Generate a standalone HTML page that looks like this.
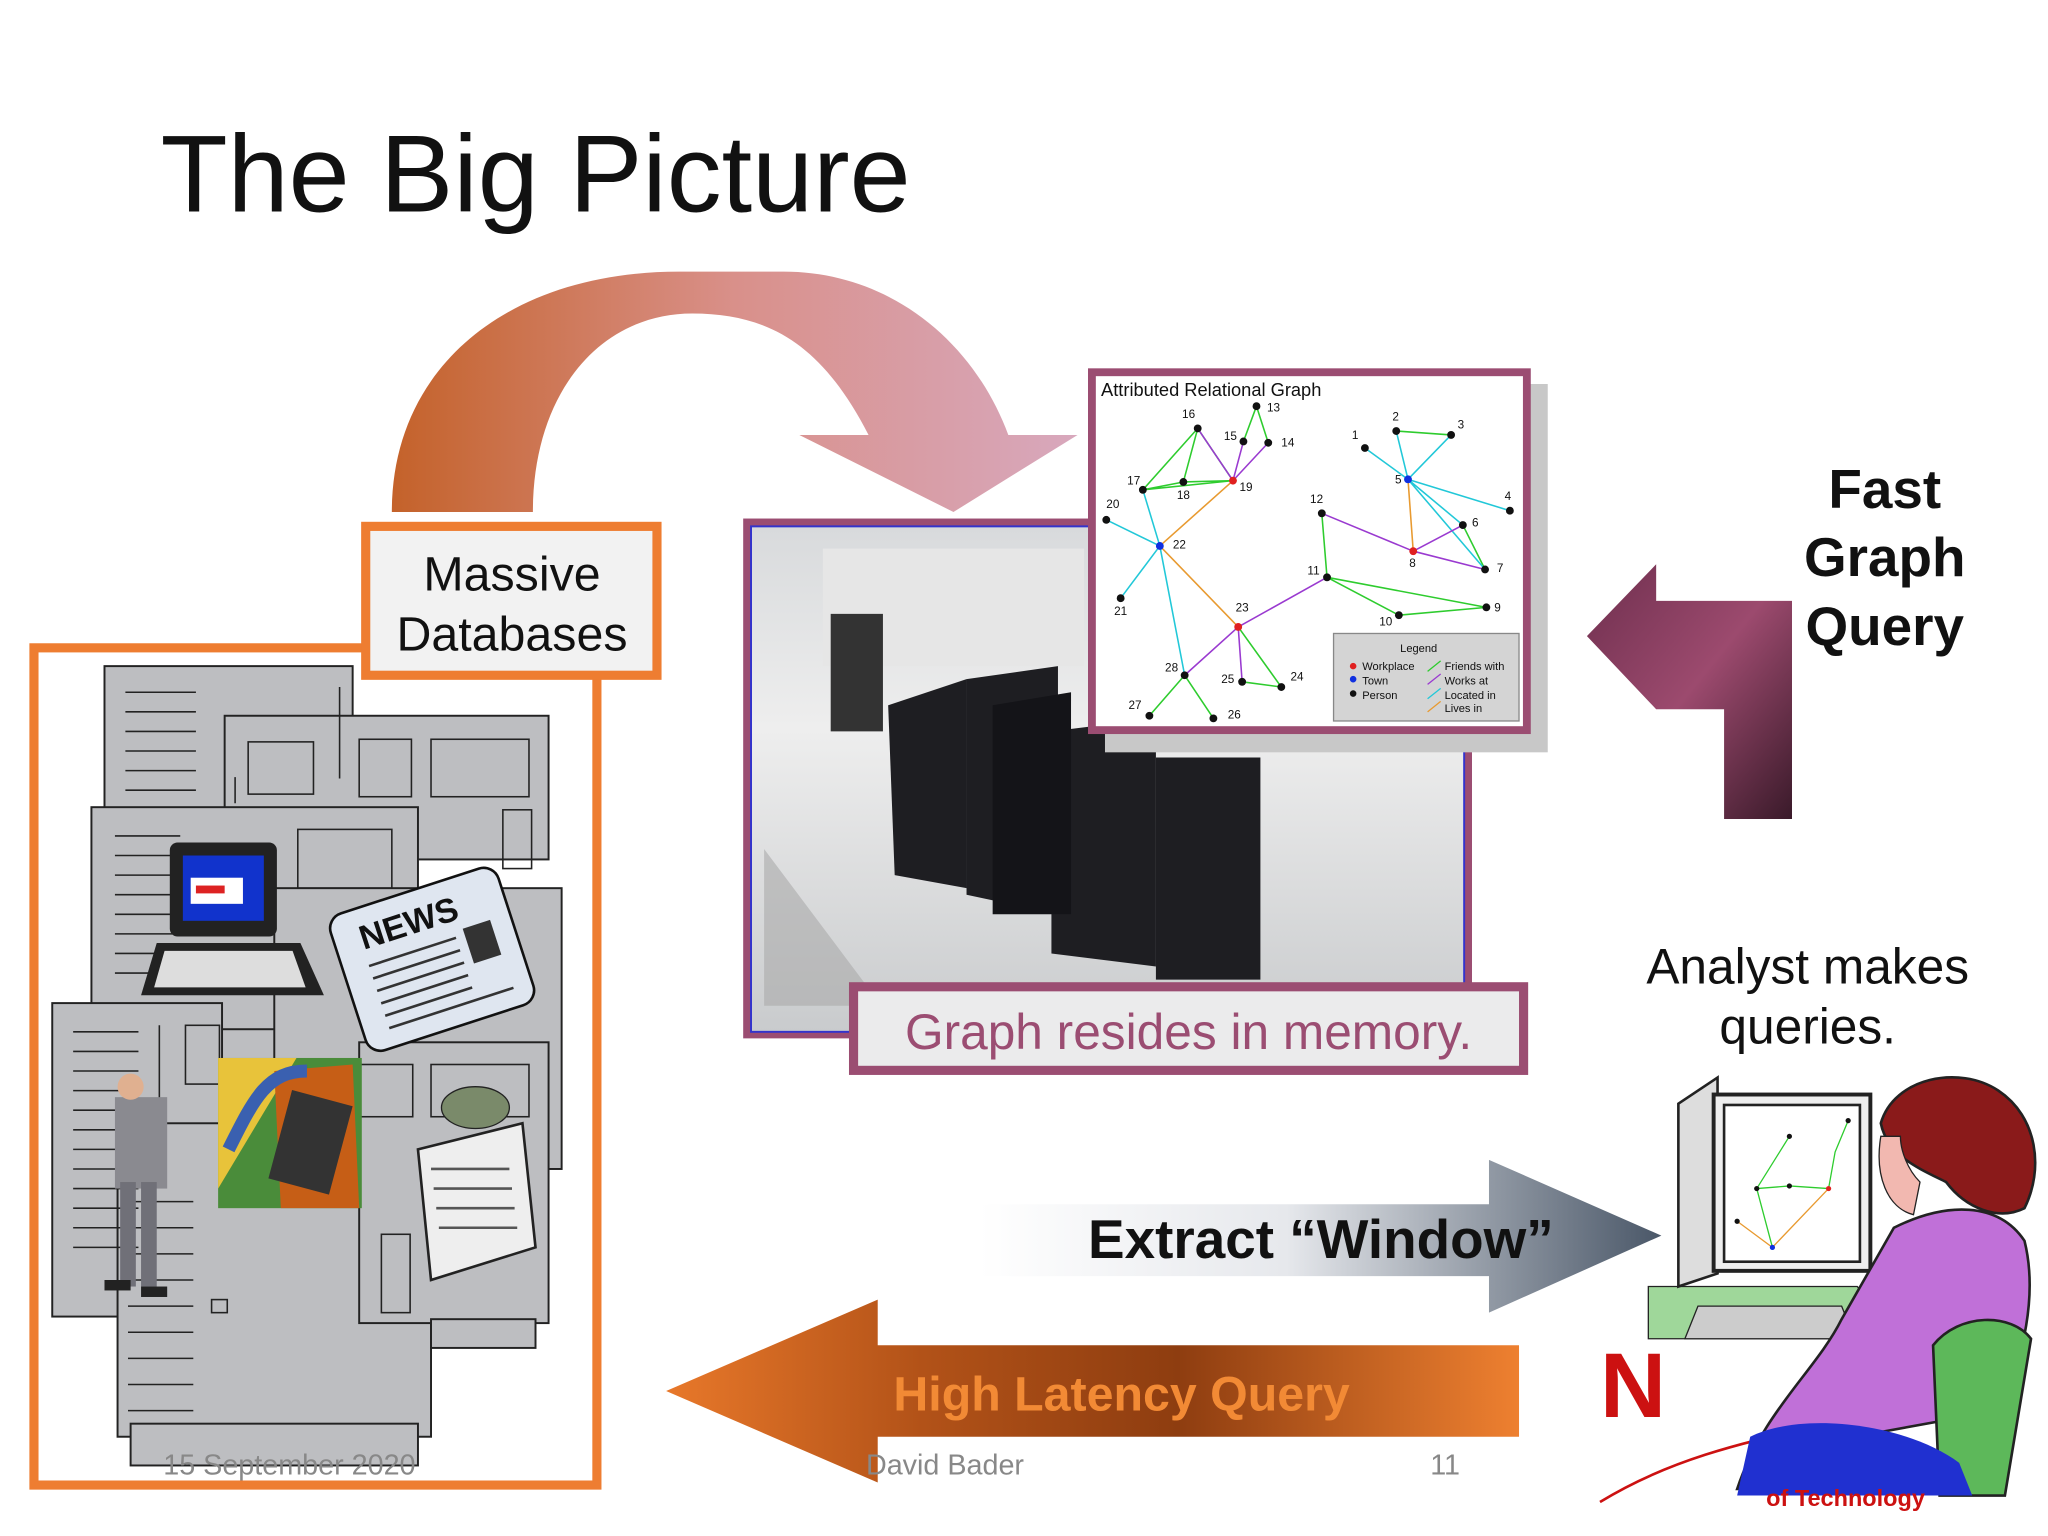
<!DOCTYPE html>
<html><head><meta charset="utf-8"><style>
html,body{margin:0;padding:0;background:#fff;width:2048px;height:1536px;overflow:hidden}
svg{display:block}
text{font-family:"Liberation Sans",sans-serif}
</style></head><body>
<svg width="2048" height="1536" viewBox="0 0 1568 1176" xmlns="http://www.w3.org/2000/svg">
<defs>
<linearGradient id="ga" x1="0" y1="0" x2="1" y2="0">
<stop offset="0" stop-color="#c4622a"/><stop offset="0.5" stop-color="#d9908a"/><stop offset="1" stop-color="#d8a8bd"/></linearGradient>
<linearGradient id="gp" x1="0" y1="0" x2="1" y2="1">
<stop offset="0" stop-color="#6e2f4e"/><stop offset="0.5" stop-color="#9c4a6e"/><stop offset="1" stop-color="#3a1a2a"/></linearGradient>
<linearGradient id="ge" x1="0" y1="0" x2="1" y2="0">
<stop offset="0" stop-color="#ffffff"/><stop offset="0.45" stop-color="#e6e8ec"/><stop offset="1" stop-color="#4a5768"/></linearGradient>
<linearGradient id="gh" x1="0" y1="0" x2="1" y2="0">
<stop offset="0" stop-color="#e8782a"/><stop offset="0.3" stop-color="#b25218"/><stop offset="0.6" stop-color="#8e3d10"/><stop offset="1" stop-color="#ee8030"/></linearGradient>
<linearGradient id="groom" x1="0" y1="0" x2="0" y2="1">
<stop offset="0" stop-color="#d8dadc"/><stop offset="0.4" stop-color="#eeeeee"/><stop offset="1" stop-color="#c9cbcd"/></linearGradient>
</defs>

<text x="123" y="162" font-family="'Liberation Sans',sans-serif" font-size="84" fill="#111">The Big Picture</text>

<!-- curved arrow -->
<path d="M300,392 C300,280 390,208 520,208 L600,208 C680,208 745,260 772,333 L825,333 L730,392 L612,333 L665,333 C630,265 590,240 530,240 C460,240 408,300 408,392 Z" fill="url(#ga)"/>

<!-- big frame -->
<rect x="26" y="496" width="431" height="641" fill="#fff" stroke="#ee7d31" stroke-width="7"/>
<!-- buildings -->
<g stroke="#222" stroke-width="1.5" fill="#bdbec1">
<rect x="80" y="510" width="190" height="480"/>
<rect x="172" y="548" width="248" height="110"/>
<rect x="70" y="618" width="250" height="170"/>
<rect x="40" y="768" width="130" height="240"/>
<rect x="90" y="860" width="240" height="240"/>
<rect x="210" y="680" width="220" height="215"/>
<rect x="275" y="798" width="145" height="215"/>
<rect x="100" y="1090" width="220" height="32"/>
<rect x="330" y="1010" width="80" height="22"/>
</g>
<g stroke="#222" stroke-width="1.2" fill="none">
<path d="M96,530h54M96,545h54M96,560h54M96,575h54M96,590h54M96,605h54"/>
<path d="M88,640h50M88,655h50M88,670h50M88,685h50M88,700h50M88,715h50M88,730h50M88,745h50"/>
<path d="M56,790h50M56,805h50M56,820h50M56,835h50M56,850h50M56,865h50M56,880h50M56,895h50M56,910h50M56,925h50M56,940h50M56,955h50"/>
<path d="M98,920h50M98,940h50M98,960h50M98,980h50M98,1000h50M98,1020h50M98,1040h50M98,1060h50M98,1080h50"/>
<rect x="190" y="568" width="50" height="40"/><rect x="275" y="566" width="40" height="44"/><rect x="330" y="566" width="75" height="44"/>
<rect x="228" y="635" width="72" height="45"/><rect x="385" y="620" width="22" height="45"/>
<rect x="142" y="785" width="26" height="45"/><rect x="276" y="815" width="40" height="40"/><rect x="330" y="815" width="75" height="40"/>
<rect x="292" y="945" width="22" height="60"/><rect x="162" y="995" width="12" height="10"/>
<path d="M260,526v70M180,595v20M122,785v60"/>
</g>
<!-- computer -->
<rect x="130" y="645" width="82" height="72" rx="6" fill="#222"/>
<rect x="140" y="655" width="62" height="50" fill="#1133cc"/>
<rect x="146" y="672" width="40" height="20" fill="#fff"/><rect x="150" y="678" width="22" height="6" fill="#d22"/>
<path d="M120,722h110l18,40h-140z" fill="#222"/>
<path d="M126,728h98l10,28h-116z" fill="#ddd"/>
<!-- newspaper -->
<g transform="rotate(-18 330 740)">
<rect x="265" y="680" width="135" height="110" rx="12" fill="#dfe6f0" stroke="#111" stroke-width="2"/>
<text x="285" y="712" font-family="'Liberation Serif',serif" font-weight="bold" font-size="26" fill="#111">NEWS</text>
<path d="M285,725h70M285,735h70M285,745h70M285,755h70M285,765h70M285,775h100" stroke="#333" stroke-width="2"/>
<rect x="362" y="720" width="22" height="28" fill="#333"/>
</g>
<!-- phone picture -->
<rect x="167" y="810" width="110" height="115" fill="#4a8c3a"/>
<path d="M167,810h60l-60,100z" fill="#e8c33a"/>
<path d="M210,820l60,-5l5,110h-60z" fill="#c65e16"/>
<rect x="215" y="840" width="48" height="70" fill="#333" transform="rotate(15 240 870)"/>
<path d="M175,880c20,-40 30,-60 60,-60" stroke="#3a60b0" stroke-width="10" fill="none"/>
<!-- businessman -->
<rect x="88" y="840" width="40" height="70" fill="#8a8a90"/>
<circle cx="100" cy="832" r="10" fill="#e0b090"/>
<rect x="92" y="905" width="12" height="80" fill="#707078"/><rect x="108" y="905" width="12" height="80" fill="#707078"/>
<rect x="80" y="980" width="20" height="8" fill="#222"/><rect x="108" y="985" width="20" height="8" fill="#222"/>
<!-- reader -->
<path d="M320,880l80,-20l10,95l-80,25z" fill="#eee" stroke="#222" stroke-width="2"/>
<ellipse cx="364" cy="848" rx="26" ry="16" fill="#7a8a6a" stroke="#222"/>
<path d="M330,895h60M332,910h60M334,925h60M336,940h60" stroke="#555" stroke-width="2"/>

<!-- massive databases -->
<rect x="280" y="403" width="223" height="114" fill="#f2f2f2" stroke="#ee7d31" stroke-width="7"/>
<text x="392" y="452" text-anchor="middle" font-size="37" fill="#111">Massive</text>
<text x="392" y="498" text-anchor="middle" font-size="37" fill="#111">Databases</text>

<!-- server room -->
<rect x="569" y="397" width="558" height="398" fill="#9b4d72"/>
<rect x="575" y="403" width="546" height="387" fill="url(#groom)" stroke="#3333cc" stroke-width="1.5"/>
<rect x="630" y="420" width="200" height="90" fill="#e6e6e6"/>
<g fill="#1e1e22">
<path d="M636,470h40v90h-40z" fill="#333"/>
<path d="M680,540l60,-20v160l-55,-10z"/>
<path d="M740,520l70,-10v190l-70,-15z"/>
<path d="M805,560l80,-10v190l-80,-10z"/>
<path d="M885,580l80,0v170h-80z"/>
<path d="M760,540l60,-10v170h-60z" fill="#141418"/>
</g>
<path d="M585,650l90,120h-90z" fill="#aaa" opacity="0.6"/>

<!-- graph panel -->
<rect x="846" y="294" width="339" height="282" fill="#c8c8c8"/>
<rect x="833" y="282" width="339" height="280" fill="#9b4d72"/>
<rect x="839" y="288" width="327" height="268" fill="#fff"/>
<text x="843" y="303" font-size="14" fill="#111">Attributed Relational Graph</text>
<g stroke-width="1.2" fill="none">
<g stroke="#2ecc2e">
<path d="M917,328L875,375M917,328L906,369M917,328L944,368M962,311L952,338M962,311L971,339M875,375L906,369M875,375L944,368M906,369L944,368M880,548L907,517M929,550L907,517M951,522L981,526M948,480L981,526M1016,442L1012,393M1016,442L1071,471M1016,442L1138,465M1071,471L1138,465M1120,402L1137,436M1069,330L1111,333"/>
</g>
<g stroke="#22c8d8">
<path d="M847,398L888,418M875,375L888,418M888,418L858,458M888,418L907,517M1078,367L1045,343M1078,367L1069,330M1078,367L1111,333M1078,367L1156,391M1078,367L1120,402M1078,367L1137,436"/>
</g>
<g stroke="#9a3ad0">
<path d="M917,328L944,368M952,338L944,368M971,339L944,368M948,480L951,522M948,480L907,517M948,480L1016,442M1012,393L1082,422M1082,422L1137,436M1082,422L1120,402"/>
</g>
<g stroke="#e89a30">
<path d="M944,368L888,418M888,418L948,480M1078,367L1082,422"/>
</g>
</g>
<g fill="#111" font-size="9">
<circle cx="962" cy="311" r="3"/><text x="970" y="315">13</text>
<circle cx="917" cy="328" r="3"/><text x="905" y="320">16</text>
<circle cx="952" cy="338" r="3"/><text x="937" y="337">15</text>
<circle cx="971" cy="339" r="3"/><text x="981" y="342">14</text>
<circle cx="875" cy="375" r="3"/><text x="863" y="371">17</text>
<circle cx="906" cy="369" r="3"/><text x="901" y="382">18</text>
<circle cx="944" cy="368" r="3" fill="#e02020"/><text x="949" y="376">19</text>
<circle cx="847" cy="398" r="3"/><text x="847" y="389">20</text>
<circle cx="888" cy="418" r="3" fill="#1030e0"/><text x="898" y="420">22</text>
<circle cx="858" cy="458" r="3"/><text x="853" y="471">21</text>
<circle cx="948" cy="480" r="3" fill="#e02020"/><text x="946" y="468">23</text>
<circle cx="907" cy="517" r="3"/><text x="892" y="514">28</text>
<circle cx="951" cy="522" r="3"/><text x="935" y="523">25</text>
<circle cx="981" cy="526" r="3"/><text x="988" y="521">24</text>
<circle cx="880" cy="548" r="3"/><text x="864" y="543">27</text>
<circle cx="929" cy="550" r="3"/><text x="940" y="550">26</text>
<circle cx="1045" cy="343" r="3"/><text x="1035" y="336">1</text>
<circle cx="1069" cy="330" r="3"/><text x="1066" y="322">2</text>
<circle cx="1111" cy="333" r="3"/><text x="1116" y="328">3</text>
<circle cx="1078" cy="367" r="3" fill="#1030e0"/><text x="1068" y="370">5</text>
<circle cx="1156" cy="391" r="3"/><text x="1152" y="383">4</text>
<circle cx="1120" cy="402" r="3"/><text x="1127" y="403">6</text>
<circle cx="1012" cy="393" r="3"/><text x="1003" y="385">12</text>
<circle cx="1082" cy="422" r="3" fill="#e02020"/><text x="1079" y="434">8</text>
<circle cx="1137" cy="436" r="3"/><text x="1146" y="438">7</text>
<circle cx="1016" cy="442" r="3"/><text x="1001" y="440">11</text>
<circle cx="1071" cy="471" r="3"/><text x="1056" y="479">10</text>
<circle cx="1138" cy="465" r="3"/><text x="1144" y="468">9</text>
</g>
<rect x="1021" y="485" width="142" height="67" fill="#d4d4d4" stroke="#888"/>
<g font-size="8.5" fill="#111">
<text x="1072" y="499">Legend</text>
<circle cx="1036" cy="510" r="2.5" fill="#e02020"/><text x="1043" y="513">Workplace</text>
<circle cx="1036" cy="520" r="2.5" fill="#1030e0"/><text x="1043" y="524">Town</text>
<circle cx="1036" cy="531" r="2.5"/><text x="1043" y="535">Person</text>
<path d="M1093,514l10,-8" stroke="#2ecc2e"/><text x="1106" y="513">Friends with</text>
<path d="M1093,524l10,-8" stroke="#9a3ad0"/><text x="1106" y="524">Works at</text>
<path d="M1093,535l10,-8" stroke="#22c8d8"/><text x="1106" y="535">Located in</text>
<path d="M1093,545l10,-8" stroke="#e89a30"/><text x="1106" y="545">Lives in</text>
</g>

<!-- caption -->
<rect x="650" y="752" width="520" height="71" fill="#9b4d72"/>
<rect x="657" y="759" width="506" height="57" fill="#ebebec"/>
<text x="910" y="803" text-anchor="middle" font-size="38" fill="#9b4d72">Graph resides in memory.</text>

<!-- fast graph query -->
<text x="1443" y="389" text-anchor="middle" font-size="42" font-weight="bold" fill="#111">Fast</text>
<text x="1443" y="441" text-anchor="middle" font-size="42" font-weight="bold" fill="#111">Graph</text>
<text x="1443" y="494" text-anchor="middle" font-size="42" font-weight="bold" fill="#111">Query</text>
<path d="M1372,627H1320V543H1268V543L1268,543L1215,487L1268,432V460H1372Z" fill="url(#gp)"/>

<text x="1384" y="753" text-anchor="middle" font-size="38" fill="#111">Analyst makes</text>
<text x="1384" y="799" text-anchor="middle" font-size="38" fill="#111">queries.</text>

<!-- extract window -->
<path d="M750,922H1140V888L1272,946L1140,1005V977H750Z" fill="url(#ge)"/>
<text x="833" y="963" font-size="42" font-weight="bold" fill="#111">Extract “Window”</text>

<!-- high latency -->
<path d="M1163,1030H672V995L510,1065L672,1135V1100H1163Z" fill="url(#gh)"/>
<text x="684" y="1080" font-size="37" font-weight="bold" fill="#f28a35">High Latency Query</text>

<!-- analyst clipart -->
<text x="1225" y="1085" font-family="'Liberation Serif',serif" font-size="70" font-weight="bold" fill="#cc1111">N</text>
<path d="M1225,1150C1290,1110 1360,1100 1420,1085" stroke="#cc1111" stroke-width="2" fill="none"/>
<path d="M1262,985h160l30,40h-190z" fill="#9fd79a" stroke="#222"/>
<path d="M1285,845l30,-20v150l-30,10z" fill="#ddd" stroke="#222" stroke-width="2"/>
<rect x="1312" y="838" width="120" height="135" fill="#eee" stroke="#222" stroke-width="3"/>
<rect x="1320" y="846" width="104" height="120" fill="#fff" stroke="#222" stroke-width="2"/>
<g stroke-width="1" fill="none">
<path d="M1370,870L1345,910L1370,908L1400,910M1415,858L1405,882L1400,910M1345,910L1357,955" stroke="#2ecc2e"/>
<path d="M1330,935L1357,955L1400,910" stroke="#e89a30"/>
</g>
<g fill="#111"><circle cx="1370" cy="870" r="2"/><circle cx="1415" cy="858" r="2"/><circle cx="1345" cy="910" r="2"/><circle cx="1370" cy="908" r="2"/><circle cx="1400" cy="910" r="2" fill="#e02020"/><circle cx="1357" cy="955" r="2" fill="#1030e0"/><circle cx="1330" cy="935" r="2"/></g>
<path d="M1300,1000h110l10,25h-130z" fill="#ccc" stroke="#222"/>
<path d="M1440,860c10,-35 60,-45 90,-25c30,20 35,60 20,90c-20,10 -45,0 -60,-20c-20,-10 -45,-20 -50,-45z" fill="#8a1a1a" stroke="#222" stroke-width="2"/>
<path d="M1440,870c-5,30 5,55 25,60l5,-25c-10,-10 -15,-25 -15,-35z" fill="#f2b8b0" stroke="#222"/>
<path d="M1450,940c40,-20 80,-20 100,10c10,40 0,90 -20,130l-110,20l-60,40h-30c20,-60 60,-90 80,-130z" fill="#c070d8" stroke="#222" stroke-width="2"/>
<path d="M1480,1030c20,-25 60,-25 75,-5l-20,120h-50z" fill="#5db85a" stroke="#222" stroke-width="2"/>
<path d="M1340,1100c40,-20 120,-10 160,20l10,25h-180z" fill="#2030d0"/>
<text x="1413" y="1153" text-anchor="middle" font-size="18" font-weight="bold" fill="#cc1111">of Technology</text>

<!-- footer -->
<text x="125" y="1129" font-size="22" fill="#888">15 September 2020</text>
<text x="663" y="1129" font-size="22" fill="#888">David Bader</text>
<text x="1095" y="1129" font-size="22" fill="#888">11</text>
</svg>
</body></html>
